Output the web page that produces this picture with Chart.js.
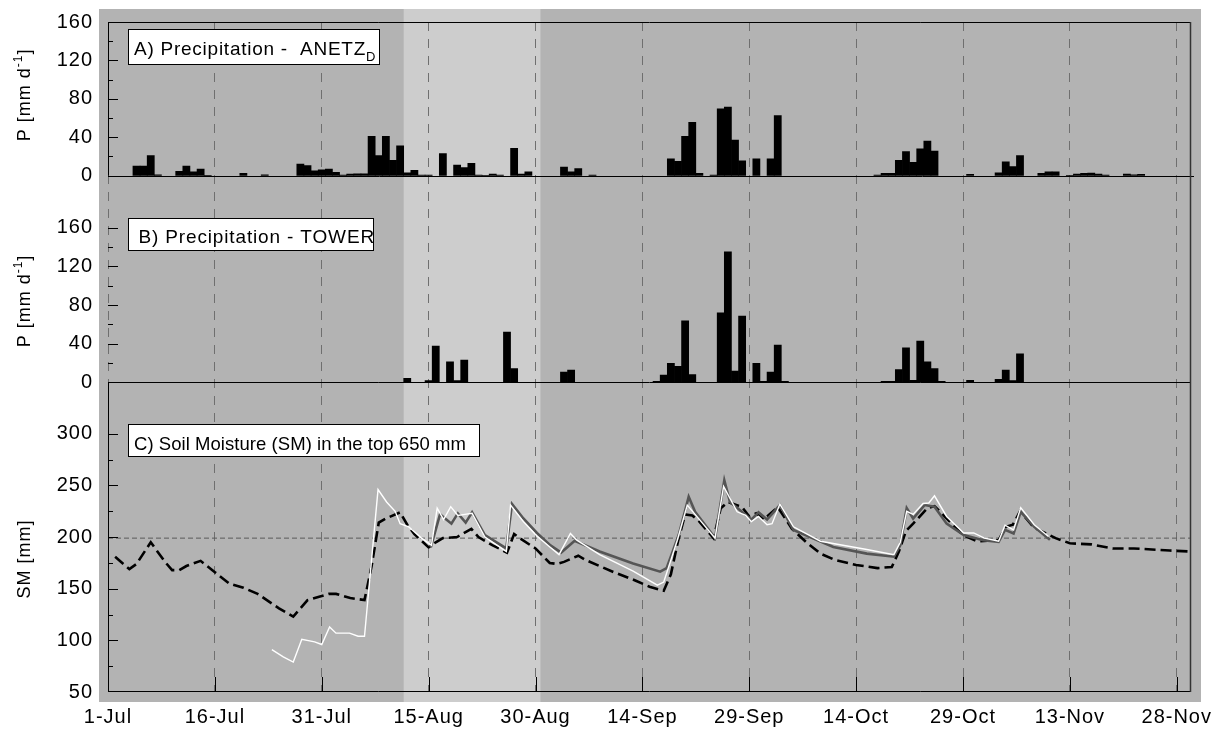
<!DOCTYPE html>
<html>
<head>
<meta charset="utf-8">
<script src="https://cdn.jsdelivr.net/npm/chart.js@4/dist/chart.umd.min.js"></script>
<style>
  html, body { margin: 0; padding: 0; background: #fff; }
</style>
</head>
<body>
<canvas id="precipChart" width="1220" height="729"></canvas>
<script>
// x axis: days after 1 July
const xTickLabels = ['1-Jul', '16-Jul', '31-Jul', '15-Aug', '30-Aug', '14-Sep', '29-Sep', '14-Oct', '29-Oct', '13-Nov', '28-Nov'];
// lighter shaded period (days)
const lightBand = [41.5, 60.7];

// A) Precipitation - ANETZ_D  [mm/d]
const anetzDays = [4, 5, 6, 7, 10, 11, 12, 13, 14, 19, 22, 27, 28, 29, 30, 31, 32, 33, 34, 35, 36, 37, 38, 39, 40, 41, 42, 43, 44, 45,
  47, 49, 50, 51, 52, 53, 54, 55, 57, 58, 59, 64, 65, 66, 68, 79, 80, 81, 82, 83, 85, 86, 87, 88, 89, 91, 93, 94,
  108, 109, 110, 111, 112, 113, 114, 115, 116, 121, 125, 126, 127, 128, 131, 132, 133, 135, 136, 137, 138, 139, 140, 143, 144, 145];
const anetzRain = [10, 10, 21, 1, 4.5, 10, 4, 7, 0.5, 2.5, 1, 12, 10.5, 5, 6, 7, 3.5, 0.7, 1.7, 2, 2, 41, 21, 41, 16, 31, 3, 5.5, 0.7, 0.7,
  23, 11, 8.5, 13, 0.7, 0.3, 1.7, 0.7, 28.5, 1.7, 4, 9, 4, 7.5, 0.7, 17.5, 15, 41, 55.5, 2.5, 0.7, 69.5, 71.5, 37, 15.5, 17.5, 17.5, 62.5,
  0.7, 2.4, 2.4, 16, 25, 14, 28, 36, 25.5, 1.4, 3, 14.5, 9.5, 21, 2.4, 4, 4, 0.3, 1.7, 2.4, 2.8, 1.7, 0.7, 1.7, 1, 1.4];

// B) Precipitation - TOWER  [mm/d]
const towerDays = [42, 45, 46, 48, 49, 50, 56, 57, 64, 65, 77, 78, 79, 80, 81, 82, 86, 87, 88, 89, 91, 92, 93, 94, 95,
  109, 110, 111, 112, 113, 114, 115, 116, 117, 121, 125, 126, 127, 128];
const towerRain = [4, 1.7, 37.5, 21, 1.7, 23, 52, 14, 10.5, 12.5, 1, 7.5, 19.5, 16.5, 63.5, 8, 72, 135, 11.5, 68.5, 19.5, 1, 10.5, 38.5, 1,
  1, 1, 13, 35.5, 2, 42.5, 21, 14, 1, 2, 3, 12.5, 1.7, 29.5];

// C) Soil moisture [mm] - dashed black series
const smDashDays = [1, 3, 4, 6, 8, 9, 10, 11, 13, 15, 17, 19, 21, 24, 26, 28, 30, 31, 32, 34, 36, 37, 38, 39, 41, 42, 43, 45, 46, 47, 49, 51,
  52, 54, 56, 57, 58, 60, 62, 63, 64, 66, 67, 69, 71, 74, 76, 78, 79, 80, 81, 82, 83, 85, 86, 87, 89, 90, 91, 92, 94, 96, 98, 100,
  102, 105, 108, 110, 111, 112, 113, 115, 116, 118, 120, 122, 125, 126, 127, 128, 130, 133, 135, 138, 141, 144, 149, 152];
const smDash = [181, 169, 174, 195, 176, 168, 168, 172, 177, 166, 155, 151, 145, 131, 123, 139, 143, 145, 145, 141, 139, 172, 214, 218, 224, 212, 203, 190, 195, 199, 200, 208,
  200, 192, 185, 203, 198, 189, 175, 174, 176, 182, 178, 172, 166, 158, 152, 148, 164, 196, 222, 221, 215, 199, 228, 234, 229, 220, 223, 217, 229, 208, 195, 184,
  178, 173, 170, 171, 186, 206, 213, 228, 230, 216, 202, 196, 197, 210, 212, 225, 209, 199, 194, 193, 189, 189, 187, 186];

// C) dark grey series
const smGrayDays = [45.3, 46.6, 48.2, 49.1, 50.2, 51.1, 52.9, 55.9, 56.7, 58.3, 60.2, 62.1, 63.6, 65.5, 69, 73.7, 77.5, 78.4, 80.1, 81.5, 82.4,
  85.2, 86.5, 87.3, 90.3, 91.3, 92.5, 94.3, 96.2, 101.8, 106.5, 110.3, 111.2, 112.1, 113, 114.6, 116, 117.7, 120.1, 122.8, 125, 125.9,
  127.1, 128.1, 130, 132.2];
const smGray = [190, 222, 213, 223, 214, 224, 202, 189, 232, 218, 204, 192, 185, 196.5, 186, 174.5, 166.5, 170, 202, 239, 224.5,
  199, 255, 234, 217, 224, 217, 231, 207, 190.5, 184, 181, 192, 228, 218, 231, 229.5, 213, 202, 197, 195.5, 207,
  203.5, 224.5, 210, 197.5];

// C) white series
const smWhiteDays = [23, 24.6, 26, 27.2, 29, 30, 31.1, 32, 33.9, 35.1, 36, 37.9, 39.1, 40.3, 41, 42.2, 44, 45.4, 46.2, 47.1, 48.1, 49.1,
  50.1, 51.1, 52.9, 55.9, 56.5, 58.3, 60.2, 62.1, 63.3, 64.9, 65.8, 69, 73.7, 77.1, 78, 79.9, 81.3, 82.4, 85.2, 86.4, 88.3, 89.5,
  90.3, 91.3, 92.5, 93.2, 94.3, 96.2, 100, 106.5, 110.3, 111.2, 112.1, 113, 114.4, 115.2, 116, 117.7, 120.1, 121.5, 123, 125,
  125.9, 127.1, 128.1, 130, 132];
const smWhite = [91, 84, 79, 101, 98.5, 96, 113, 107, 107, 104, 104, 246, 234, 225, 213, 210, 199, 192, 228, 217, 229.5, 221,
  222, 223, 200, 186, 231, 215, 201, 190, 183, 203.5, 197, 183, 167, 153.5, 156.5, 197, 231, 222, 199, 249, 224.5, 221,
  215, 220, 212, 213, 232, 210, 196, 188, 183, 195, 225, 222, 232.5, 233, 240, 220, 204, 204, 199, 196,
  211.5, 207, 228.5, 212, 200.5];

// reference soil moisture level [mm]
const smRefLevel = 199;

const FONT = "'Liberation Sans', Arial, Helvetica, sans-serif";

const pts = function (days, vals) {
  return days.map((d, i) => ({x: d, y: vals[i]}));
};

/**
 * Shared y-axis options for the three stacked panels.
 */
const yAxis = function (weight, min, max, step, isLabelled) {
  return {
    type: 'linear',
    position: 'left',
    stack: 'panels',
    stackWeight: weight,
    min: min,
    max: max,
    grid: {display: false, drawTicks: false},
    border: {display: false},
    ticks: {
      stepSize: step,
      autoSkip: false,
      includeBounds: false,
      padding: 15,
      color: '#000',
      font: {family: FONT, size: 20},
      callback: (v) => isLabelled(v) ? v : ''
    },
    afterFit: (s) => { s.width = 108; s.paddingTop = 0; s.paddingBottom = 0; }
  };
};

const line = function (ctx, x1, y1, x2, y2) {
  ctx.beginPath();
  ctx.moveTo(x1, y1);
  ctx.lineTo(x2, y2);
  ctx.stroke();
};

// draws a run of text pieces (with optional size / vertical shift) from x,y
const drawPieces = function (ctx, pieces, x, y, spacing) {
  ctx.letterSpacing = spacing + 'px';
  ctx.textAlign = 'left';
  ctx.textBaseline = 'alphabetic';
  let cx = x;
  pieces.forEach(p => {
    ctx.font = p.size + 'px ' + FONT;
    ctx.fillText(p.text, cx, y + (p.dy || 0));
    cx += ctx.measureText(p.text).width;
  });
  return cx - x;
};

const piecesWidth = function (ctx, pieces, spacing) {
  ctx.letterSpacing = spacing + 'px';
  let w = 0;
  pieces.forEach(p => {
    ctx.font = p.size + 'px ' + FONT;
    w += ctx.measureText(p.text).width;
  });
  return w;
};

const panelDecor = {
  id: 'panelDecor',
  beforeDraw(chart) {
    const {ctx, chartArea: a, scales: {x}} = chart;
    ctx.save();
    ctx.fillStyle = '#fff';
    ctx.fillRect(0, 0, chart.width, chart.height);
    // outer grey frame
    ctx.fillStyle = '#b3b3b3';
    ctx.fillRect(a.left - 9, a.top - 13, a.right - a.left + 19, a.bottom - a.top + 23);
    // lighter period
    const b0 = x.getPixelForValue(lightBand[0]);
    const b1 = x.getPixelForValue(lightBand[1]);
    ctx.fillStyle = '#cdcdcd';
    ctx.fillRect(b0, a.top - 13, b1 - b0, a.bottom - a.top + 23);
    ctx.restore();
    ctx.letterSpacing = '1px';
  },
  afterDraw(chart) {
    const {ctx, chartArea: a, scales: {x, yA, yB, yC}} = chart;
    const L = a.left, R = a.right;
    const px = (v) => Math.round(v) + 0.5;
    ctx.save();
    ctx.letterSpacing = '0px';
    ctx.strokeStyle = '#000';
    ctx.lineWidth = 1;

    // frame + axis lines
    line(ctx, px(L), yA.top, px(L), yA.bottom);
    line(ctx, px(L), yC.top, px(L), yC.bottom);
    line(ctx, L, px(a.top), R, px(a.top));
    line(ctx, L, px(a.bottom) - 1, R, px(a.bottom) - 1);
    line(ctx, L, px(yA.getPixelForValue(0)), R + 3, px(yA.getPixelForValue(0)));
    line(ctx, L, px(yB.getPixelForValue(0)), R, px(yB.getPixelForValue(0)));
    ctx.strokeStyle = '#333';
    ctx.lineWidth = 1.5;
    line(ctx, R - 0.5, a.top, R - 0.5, a.bottom);
    ctx.strokeStyle = '#000';
    ctx.lineWidth = 1;

    // inward y tick marks
    [[yA, 160, 40], [yB, 160, 40], [yC, 300, 50]].forEach(([s, top, major]) => {
      s.ticks.forEach(t => {
        if (t.value > top || t.value === s.min) return;
        const len = t.value % major === 0 ? 10 : 5;
        const y = px(s.getPixelForValue(t.value));
        line(ctx, L, y, L + len, y);
      });
    });

    // x tick marks on the bottom axis
    x.ticks.forEach(t => {
      const xp = px(x.getPixelForValue(t.value));
      line(ctx, xp, a.bottom - 1, xp, a.bottom - 15);
    });

    // panel labels
    const boxes = [
      {s: yA, dy: 7, w: 251, h: 35, tx: 5.5, ty: 25.5, sp: 0.75,
        pieces: [{text: 'A) Precipitation -  ANETZ', size: 19}, {text: 'D', size: 13, dy: 6}]},
      {s: yB, dy: 42.5, w: 245, h: 32, tx: 10, ty: 24.5, sp: 0.85,
        pieces: [{text: 'B) Precipitation - TOWER', size: 19}]},
      {s: yC, dy: 42, w: 351, h: 32, tx: 5.5, ty: 25, sp: 0.05,
        pieces: [{text: 'C) Soil Moisture (SM) in the top 650 mm', size: 18.5}]}
    ];
    boxes.forEach(b => {
      const bx = Math.round(L + 20) + 0.5;
      const by = Math.round(b.s.top + b.dy) + 0.5;
      ctx.fillStyle = '#fff';
      ctx.fillRect(bx, by, b.w, b.h);
      ctx.strokeRect(bx, by, b.w, b.h);
      ctx.fillStyle = '#000';
      drawPieces(ctx, b.pieces, bx + b.tx, by + b.ty, b.sp);
    });

    // rotated axis titles
    const pTitle = [{text: 'P [mm d', size: 18}, {text: '-1', size: 12, dy: -8}, {text: ']', size: 18}];
    const smTitle = [{text: 'SM [mm]', size: 18}];
    [[yA.getPixelForValue(80), pTitle], [yB.getPixelForValue(80), pTitle], [yC.getPixelForValue(175), smTitle]].forEach(([cy, pieces]) => {
      ctx.save();
      ctx.translate(29.5, cy - 4);
      ctx.rotate(-Math.PI / 2);
      const w = piecesWidth(ctx, pieces, 1);
      drawPieces(ctx, pieces, -w / 2, 0, 1);
      ctx.restore();
    });
    ctx.restore();
  }
};

const barSet = function (days, vals, axis) {
  return {
    type: 'bar',
    data: pts(days, vals),
    yAxisID: axis,
    backgroundColor: '#000',
    borderWidth: 0,
    grouped: false,
    barPercentage: 1,
    categoryPercentage: 1,
    order: 5
  };
};

const lineSet = function (data, color, width, dash, order) {
  return {
    type: 'line',
    data: data,
    yAxisID: 'yC',
    borderColor: color,
    borderWidth: width,
    borderDash: dash,
    pointRadius: 0,
    tension: 0,
    fill: false,
    order: order
  };
};

const chart = new Chart(document.getElementById('precipChart'), {
  type: 'bar',
  data: {
    datasets: [
      barSet(anetzDays, anetzRain, 'yA'),
      barSet(towerDays, towerRain, 'yB'),
      lineSet([{x: 0, y: smRefLevel}, {x: 152, y: smRefLevel}], '#5a5a5a', 1, [5, 3], 4),
      lineSet(pts(smDashDays, smDash), '#000', 2.6, [11, 5], 3),
      lineSet(pts(smGrayDays, smGray), '#555', 2.6, [], 2),
      lineSet(pts(smWhiteDays, smWhite), '#fff', 1.4, [], 1)
    ]
  },
  options: {
    responsive: false,
    devicePixelRatio: 1,
    animation: false,
    events: [],
    layout: {padding: {top: 22, right: 29, left: 0, bottom: 0}},
    plugins: {legend: {display: false}, tooltip: {enabled: false}},
    scales: {
      x: {
        type: 'linear',
        min: 0,
        max: 152,
        offset: false,
        grid: {color: '#6f6f6f', lineWidth: 1, drawTicks: false, offset: false},
        border: {display: false, dash: [9, 8]},
        ticks: {
          stepSize: 15,
          includeBounds: false,
          autoSkip: false,
          maxRotation: 0,
          padding: 13,
          color: '#000',
          font: {family: FONT, size: 20},
          callback: (v) => xTickLabels[Math.round(v / 15)]
        },
        // fixed axis height, no extra side padding for overhanging labels
        afterFit: (s) => { s.height = 37; s.paddingLeft = 0; s.paddingRight = 0; }
      },
      yC: yAxis(309.8, 50, 350, 25, v => v <= 300 && v % 50 === 0),
      yB: yAxis(206.5, 0, 214, 20, v => v <= 160 && v % 40 === 0),
      yA: yAxis(153.7, 0, 160, 20, v => v % 40 === 0)
    }
  },
  plugins: [panelDecor]
});
</script>
</body>
</html>
